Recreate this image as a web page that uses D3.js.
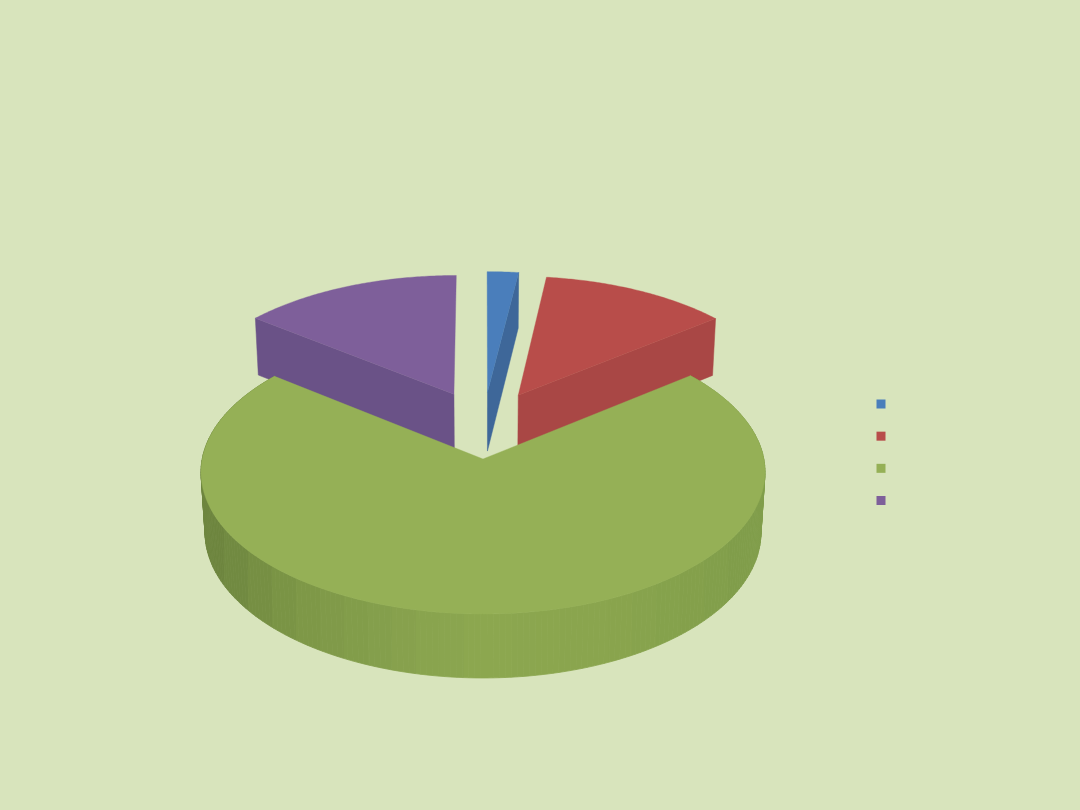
<!DOCTYPE html>
<html>
<head>
<meta charset="utf-8">
<script src="https://cdn.jsdelivr.net/npm/d3@7"></script>
<style>html,body{margin:0;padding:0;background:#d8e4bc}svg{display:block}</style>
</head>
<body>
<svg id="chart" width="1080" height="810"></svg>
<script>
// Data (share of the pie, percent)
const categories = ["1", "2", "3", "4"];
const values = [2, 12.25, 71.4, 14.35];
// Slice styling
const topColors = ["#4a7ebb", "#b84d4a", "#95b056", "#7e5f9a"];
const faceColors = ["#3e6799", "#a94745", "#8aa64f", "#6a5287"];
// Explosion of each slice, in disc radii (x, y), and slice radius
const explodeX = [0.0167, 0.131, 0, -0.108];
const explodeY = [-0.495, -0.472, 0, -0.48];
const radii = [1.02, 1, 1, 1];
// Which radial edge of a slice shows its wall (end edge, start edge or none)
const faceEdge = ["end", "end", null, "start"];
// Shading of the front wall across the picture
const wallStops = [200, 300, 420, 484, 600, 700, 770];
const wallColors = ["#6b833d", "#7d9747", "#88a34e", "#8ca74f", "#8aa54e", "#83a04b", "#7e9a49"];

const W = 1080, H = 810;
const cx = 483, cy = 459;
const A = 140.8, B = -0.0915, C = 280.8, D = 0.0145, E = 61.3;

// Perspective view of the disc: (u, v) in radii, z = 0 on top and 1 at the base
function project(u, v, z) {
  const w = 1 + B * v + D * z;
  return [cx + C * u / w, cy + (A * v + E * z) / w];
}

const svg = d3.select("#chart");
svg.append("rect").attr("width", W).attr("height", H).attr("fill", "#d8e4bc");

// Faceted wall shading: a gradient with hard steps, so no seams appear
const rimShade = d3.scaleLinear().domain(wallStops).range(wallColors);
const facetX = d3.range(200, 771, 24);
const grad = svg.append("defs").append("linearGradient")
  .attr("id", "wall").attr("gradientUnits", "userSpaceOnUse")
  .attr("x1", 200).attr("x2", 770).attr("y1", 0).attr("y2", 0);
d3.pairs(facetX).forEach(([x0, x1]) => {
  const c = rimShade((x0 + x1) / 2);
  grad.append("stop").attr("offset", (x0 - 200) / 570).attr("stop-color", c);
  grad.append("stop").attr("offset", (x1 - 200) / 570).attr("stop-color", c);
});

const pie = d3.pie().sort(null).value(d => d);
const arcs = pie(values).map((a, i) => ({...a, i}));
const line = d3.line().curve(d3.curveLinearClosed);

const pt = (a, ang, r, z) => project(
  explodeX[a.i] + r * radii[a.i] * Math.sin(ang),
  explodeY[a.i] - r * radii[a.i] * Math.cos(ang), z);

function rimAngles(a, step) {
  const n = Math.max(2, Math.ceil((a.endAngle - a.startAngle) / step));
  return d3.range(n + 1).map(k => a.startAngle + (a.endAngle - a.startAngle) * k / n);
}

function topPath(a) {
  return line([pt(a, 0, 0, 0), ...rimAngles(a, 0.01).map(t => pt(a, t, 1, 0))]);
}

function drawSlice(a) {
  const g = svg.append("g").attr("class", "slice");
  const edge = faceEdge[a.i];
  if (edge) {
    const t = edge === "end" ? a.endAngle : a.startAngle;
    g.append("path")
      .attr("d", line([pt(a, 0, 0, 0), pt(a, t, 1, 0), pt(a, t, 1, 1), pt(a, 0, 0, 1)]))
      .attr("fill", faceColors[a.i])
      .attr("stroke", faceColors[a.i]).attr("stroke-width", 0.5);
  }
  if (a.i === 2) {
    d3.pairs(rimAngles(a, 0.02)).forEach(([t0, t1]) => {
      g.append("path")
        .attr("d", line([pt(a, t0, 1, 0), pt(a, t1, 1, 0), pt(a, t1, 1, 1), pt(a, t0, 1, 1)]))
        .attr("fill", "url(#wall)")
        .attr("stroke", "url(#wall)").attr("stroke-width", 0.8);
    });
  }
  g.append("path")
    .attr("d", topPath(a))
    .attr("fill", topColors[a.i])
    .attr("stroke", topColors[a.i]).attr("stroke-width", 0.4);
}

// Back slices first, the large front slice last
[3, 0, 1, 2].forEach(i => drawSlice(arcs[i]));

// Legend: colour keys only, as in the picture
const legendY = d3.scalePoint().domain(categories).range([404, 500.5]);
svg.append("g").selectAll("rect").data(categories).join("rect")
  .attr("x", 876.5)
  .attr("y", d => legendY(d) - 4.5)
  .attr("width", 9).attr("height", 9)
  .attr("fill", (d, i) => topColors[i]);
</script>
</body>
</html>
